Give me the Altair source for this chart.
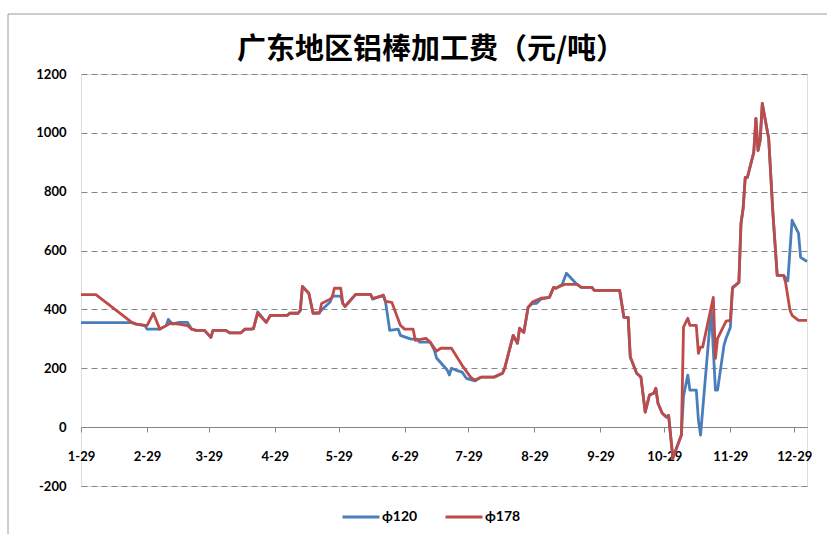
import altair as alt
import pandas as pd

# ---------------- data ----------------
series_names = ["ϕ120", "ϕ178"]
series_colors = ["#4A7EBB", "#BE4B48"]
y_ticks = [-200, 0, 200, 400, 600, 800, 1000, 1200]
tick_months = list(range(1, 13))  # x tick labels 1-29 ... 12-29 (year 2012)

red_dates = [
    "2012-01-29", "2012-02-05", "2012-02-22", "2012-02-24", "2012-02-29", "2012-03-03",
    "2012-03-06", "2012-03-09", "2012-03-11", "2012-03-15", "2012-03-19", "2012-03-21",
    "2012-03-23", "2012-03-27", "2012-03-30", "2012-03-31", "2012-04-06", "2012-04-08",
    "2012-04-13", "2012-04-15", "2012-04-18", "2012-04-19", "2012-04-21", "2012-04-25",
    "2012-04-27", "2012-05-05", "2012-05-06", "2012-05-10", "2012-05-11", "2012-05-12",
    "2012-05-15", "2012-05-17", "2012-05-20", "2012-05-21", "2012-05-25", "2012-05-26",
    "2012-05-27", "2012-05-30", "2012-05-31", "2012-06-01", "2012-06-06", "2012-06-13",
    "2012-06-14", "2012-06-16", "2012-06-19", "2012-06-20", "2012-06-23", "2012-06-27",
    "2012-06-29", "2012-07-03", "2012-07-04", "2012-07-09", "2012-07-11", "2012-07-14",
    "2012-07-16", "2012-07-21", "2012-07-26", "2012-07-30", "2012-08-01", "2012-08-04",
    "2012-08-10", "2012-08-14", "2012-08-15", "2012-08-19", "2012-08-21", "2012-08-22",
    "2012-08-24", "2012-08-26", "2012-08-28", "2012-09-01", "2012-09-05", "2012-09-07",
    "2012-09-08", "2012-09-12", "2012-09-18", "2012-09-20", "2012-09-25", "2012-09-26",
    "2012-10-08", "2012-10-10", "2012-10-12", "2012-10-13", "2012-10-16", "2012-10-18",
    "2012-10-20", "2012-10-22", "2012-10-24", "2012-10-25", "2012-10-26", "2012-10-28",
    "2012-10-30", "2012-10-31", "2012-11-02", "2012-11-06", "2012-11-07", "2012-11-09",
    "2012-11-10", "2012-11-13", "2012-11-14", "2012-11-15", "2012-11-16", "2012-11-21",
    "2012-11-22", "2012-11-23", "2012-11-27", "2012-11-29", "2012-11-30", "2012-12-03",
    "2012-12-04", "2012-12-05", "2012-12-06", "2012-12-07", "2012-12-10", "2012-12-11",
    "2012-12-12", "2012-12-13", "2012-12-14", "2012-12-17", "2012-12-19", "2012-12-21",
    "2012-12-24", "2012-12-25", "2012-12-27", "2012-12-28", "2012-12-31", "2013-01-04",
]
red_values = [
    450, 450, 355, 350, 345, 387,
    333, 345, 353, 350, 345, 333,
    329, 329, 305, 329, 329, 320,
    320, 333, 333, 335, 387, 356,
    380, 380, 387, 387, 397, 478,
    455, 387, 387, 420, 435, 441,
    472, 472, 420, 410, 451, 451,
    438, 441, 448, 427, 424, 346,
    333, 333, 295, 302, 289, 258,
    268, 268, 210, 170, 160, 170,
    170, 183, 200, 312, 285, 336,
    322, 407, 425, 438, 441, 475,
    472, 485, 485, 475, 475, 465,
    465, 373, 373, 238, 183, 170,
    51, 109, 115, 132, 81, 47,
    34, 40, -105, -27, 340, 370,
    346, 346, 251, 272, 272, 441,
    234, 302, 360, 363, 472, 492,
    692, 743, 849, 849, 934, 1049,
    940, 974, 1100, 981, 726, 516,
    516, 489, 397, 380, 363, 363,
]

blue_dates = [
    "2012-01-29", "2012-02-22", "2012-02-24", "2012-02-28", "2012-02-29", "2012-03-06",
    "2012-03-09", "2012-03-10", "2012-03-12", "2012-03-15", "2012-03-19", "2012-03-21",
    "2012-03-23", "2012-03-27", "2012-03-30", "2012-03-31", "2012-04-06", "2012-04-08",
    "2012-04-13", "2012-04-15", "2012-04-18", "2012-04-19", "2012-04-21", "2012-04-25",
    "2012-04-27", "2012-05-05", "2012-05-06", "2012-05-10", "2012-05-11", "2012-05-12",
    "2012-05-15", "2012-05-17", "2012-05-20", "2012-05-22", "2012-05-25", "2012-05-26",
    "2012-05-30", "2012-05-31", "2012-06-01", "2012-06-06", "2012-06-13", "2012-06-14",
    "2012-06-16", "2012-06-19", "2012-06-20", "2012-06-22", "2012-06-26", "2012-06-27",
    "2012-07-02", "2012-07-05", "2012-07-06", "2012-07-11", "2012-07-13", "2012-07-14",
    "2012-07-19", "2012-07-20", "2012-07-21", "2012-07-23", "2012-07-26", "2012-07-28",
    "2012-08-01", "2012-08-04", "2012-08-10", "2012-08-14", "2012-08-15", "2012-08-19",
    "2012-08-21", "2012-08-22", "2012-08-24", "2012-08-26", "2012-08-28", "2012-08-30",
    "2012-09-01", "2012-09-05", "2012-09-07", "2012-09-08", "2012-09-11", "2012-09-13",
    "2012-09-18", "2012-09-20", "2012-09-25", "2012-09-26", "2012-10-08", "2012-10-10",
    "2012-10-12", "2012-10-13", "2012-10-16", "2012-10-18", "2012-10-20", "2012-10-22",
    "2012-10-24", "2012-10-25", "2012-10-26", "2012-10-28", "2012-10-30", "2012-10-31",
    "2012-11-02", "2012-11-06", "2012-11-07", "2012-11-09", "2012-11-10", "2012-11-13",
    "2012-11-14", "2012-11-15", "2012-11-20", "2012-11-22", "2012-11-23", "2012-11-26",
    "2012-11-27", "2012-11-29", "2012-11-30", "2012-12-03", "2012-12-04", "2012-12-05",
    "2012-12-06", "2012-12-07", "2012-12-10", "2012-12-11", "2012-12-12", "2012-12-13",
    "2012-12-14", "2012-12-17", "2012-12-19", "2012-12-21", "2012-12-24", "2012-12-26",
    "2012-12-28", "2012-12-31", "2013-01-01", "2013-01-04",
]
blue_values = [
    355, 355, 350, 345, 333, 333,
    345, 366, 350, 356, 356, 333,
    329, 329, 305, 329, 329, 320,
    320, 333, 333, 335, 392, 356,
    380, 380, 387, 387, 397, 478,
    455, 387, 390, 405, 425, 445,
    445, 420, 410, 451, 451, 435,
    441, 448, 427, 329, 333, 312,
    299, 299, 289, 289, 261, 235,
    194, 177, 200, 194, 187, 166,
    157, 170, 170, 183, 200, 312,
    285, 336, 322, 407, 420, 421,
    435, 441, 475, 472, 485, 523,
    485, 475, 475, 465, 465, 373,
    373, 238, 183, 170, 51, 109,
    115, 132, 81, 47, 34, 40,
    -105, -27, 105, 177, 126, 126,
    24, -27, 400, 126, 126, 278,
    302, 339, 475, 492, 692, 743,
    849, 849, 934, 1049, 940, 974,
    1100, 981, 726, 516, 516, 497,
    703, 659, 577, 563,
]

df = pd.concat([
    pd.DataFrame({"date": blue_dates, "value": blue_values, "series": series_names[0]}),
    pd.DataFrame({"date": red_dates, "value": red_values, "series": series_names[1]}),
], ignore_index=True)

# ---------------- styling ----------------
FONT = "Lato, sans-serif"
W, H = 726, 412
PAD = {"left": 81, "top": 74, "right": 20, "bottom": 48}

x_scale = alt.Scale(
    type="utc",
    domain=[alt.DateTime(year=2012, month=1, date=29, utc=True),
            alt.DateTime(year=2013, month=1, date=4, utc=True)],
)
x_axis = alt.Axis(
    values=[alt.DateTime(year=2012, month=m, date=29, utc=True) for m in tick_months],
    labelExpr="utcFormat(datum.value, '%-m-%d')",
    offset=-59, grid=False,
    domainColor="#868686", domainWidth=1,
    tickColor="#868686", tickSize=5, tickWidth=1,
    labelPadding=18, labelFontSize=13, labelFont=FONT, labelFontWeight="bold",
    labelColor="#000000", labelFlush=False, labelOverlap=False,
)
y_axis = alt.Axis(
    values=y_ticks, labelExpr="datum.value + ''",
    grid=True, gridDash=[6, 4], gridColor="#868686", gridWidth=1,
    domain=False, ticks=False, tickSize=0, labelPadding=15,
    labelFontSize=13, labelFont=FONT, labelFontWeight="bold", labelColor="#000000",
)

lines = alt.Chart(df).mark_line(strokeWidth=2.8, strokeJoin="round").encode(
    x=alt.X("date:T", scale=x_scale, axis=x_axis, title=None),
    y=alt.Y("value:Q", scale=alt.Scale(domain=[-200, 1200], nice=False, zero=False),
            axis=y_axis, title=None),
    color=alt.Color(
        "series:N",
        scale=alt.Scale(domain=series_names, range=series_colors),
        legend=alt.Legend(
            orient="none", legendX=260, legendY=423, direction="horizontal", title=None,
            symbolType="stroke", symbolSize=1369, symbolStrokeWidth=3,
            labelFontSize=14, labelFont=FONT, labelFontWeight="bold", labelColor="#000000",
            labelOffset=1, columnPadding=21,
        ),
    ),
)

border = alt.Chart(pd.DataFrame({"k": [0]})).mark_rect(
    fillOpacity=0, stroke="#9A9A9A", strokeWidth=1
).encode(
    x=alt.value(-73), x2=alt.value(800), y=alt.value(-60), y2=alt.value(500)
)

chart = alt.layer(border, lines).properties(
    width=W, height=H,
    autosize=alt.AutoSizeParams(type="none"),
    padding=PAD,
    title=alt.TitleParams(
        "广东地区铝棒加工费（元/吨）",
        font="Noto Sans CJK SC", fontSize=29, fontWeight="bold", color="#000000",
        anchor="middle", frame="group", dx=-13, offset=-51,
    ),
).configure_view(stroke=None).configure(background="#FFFFFF")

chart.save("out.html", embed_options={"renderer": "svg", "actions": False})
